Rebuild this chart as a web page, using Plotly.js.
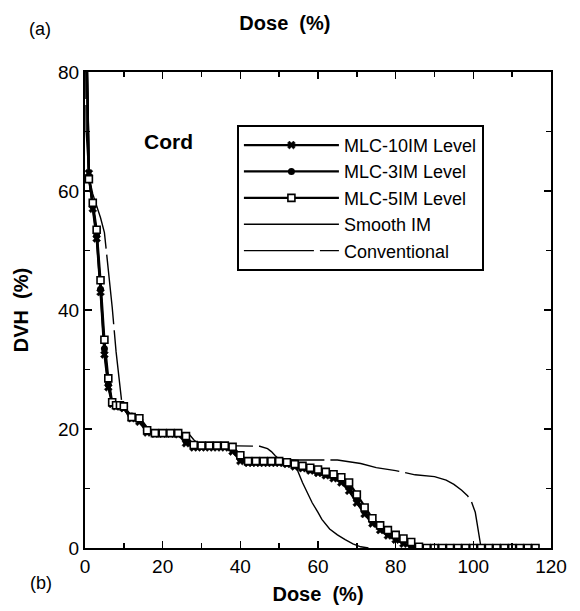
<!DOCTYPE html>
<html>
<head>
<meta charset="utf-8">
<script src="https://cdn.plot.ly/plotly-3.0.1.min.js"></script>
<style>html,body{margin:0;padding:0;background:#fff;}#chart{width:580px;height:611px;}</style>
</head>
<body>
<div id="chart"></div>
<script>
// Dose grid shared by the three MLC series (%)
const mlcDose = [0,1,2,3,4,5,6,7,8,9,10,
  12,14,16,18,20,22,24,26,28,30,32,34,36,38,40,42,44,46,48,50,52,54,56,58,60,62,64,66,68,70,72,74,76,78,80,82,84,86,
  88,90,92,94,96,98,100,102,104,106,108,110,112,114,116];

const mlc10 = [100,63,57,52,43,32.5,27,24.2,23.8,23.8,23.5,
  21.8,21.2,19.4,19.2,19.2,19.2,19.1,17.6,16.9,16.9,16.9,16.9,16.9,16.2,14.6,14.3,14.3,14.3,14.3,14.3,14.1,13.7,13.4,13.0,12.6,12.2,11.7,11.0,9.6,7.6,5.7,4.1,3.0,2.1,1.4,0.7,0.2,0,
  0,0,0,0,0,0,0,0,0,0,0,0,0,0,0];

const mlc3 = [100,62.5,57.5,52.5,43.5,33.5,27.5,24.3,24,24,23.6,
  22.2,21.5,19.6,19.4,19.4,19.4,19.3,18.0,17.1,17.1,17.1,17.1,17.1,16.6,15.0,14.5,14.5,14.5,14.5,14.5,14.3,13.9,13.6,13.2,12.9,12.5,12.0,11.4,10.3,8.2,6.2,4.5,3.4,2.5,1.8,1.1,0.5,0,
  0,0,0,0,0,0,0,0,0,0,0,0,0,0,0];

const mlc5 = [100,62,58,53.5,45,35,28.5,24.5,24,24,23.8,
  22,21.8,19.8,19.3,19.3,19.3,19.3,18.8,17.3,17.2,17.2,17.2,17.2,17.0,15.6,14.6,14.6,14.6,14.6,14.6,14.4,14.1,13.8,13.5,13.2,12.8,12.4,11.9,11.0,9.0,6.8,5.0,3.8,3.0,2.2,1.6,1.0,0.2,
  0,0,0,0,0,0,0,0,0,0,0,0,0,0,0];

// Smooth IM
const smoothDose = [0,1,2,3,4,5,6,7,8,10,11,12,14,15.5,17,20,25,26.5,27.5,30,38,39.5,41,45,50,53,54.5,56,57,58.5,60,61,63,65,67,69,71,73];
const smoothDVH  = [100,62,58,53,44,34,28,24.5,24,23.5,22.3,22,21.7,20.5,19.5,19.4,19.3,18.5,17.4,17.2,17.1,16,14.8,14.7,14.6,14.2,13.4,11,9.6,7.6,6,4.8,3.2,2.2,1.4,0.7,0.2,0];

// Conventional
const convDose = [0,0.3,1,2,3,4,5,6,7,8,9,9.5,10,11,12,14,15,16,17,20,25,26,27,28,29,30,35,40,45,47,48,49,50,55,60,65,68,71,75,80,85,90,93,95,97,98.5,99.5,100.5,101,101.5,102];
const convDVH  = [100,70,62.5,59.5,57.5,55.5,53,47,40.5,33,26.5,24.3,23.3,22.5,22.2,21.9,21.2,20.3,19.9,19.7,19.6,19.4,19,18.2,17.6,17.3,17.2,17.2,17.1,16.7,16.2,15.5,14.9,14.8,14.8,14.8,14.5,14.2,13.5,13.0,12.3,12.0,11.4,10.7,9.7,8.8,7.8,6,4,2,0];

const seriesNames = ['MLC-10IM Level','MLC-3IM Level','MLC-5IM Level','Smooth IM','Conventional'];
const xTicks = [0,20,40,60,80,100,120];
const yTicks = [0,20,40,60,80];

const FONT = 'Liberation Sans, Arial, Helvetica, sans-serif';

const traces = [
  {x: convDose, y: convDVH, name: seriesNames[4], mode: 'lines', legendrank: 5, legendgroup: 'e',
   line: {color: '#000', width: 1.4, dash: '70px,6px'}},
  {x: smoothDose, y: smoothDVH, name: seriesNames[3], mode: 'lines', legendrank: 4, legendgroup: 'd',
   line: {color: '#000', width: 1.4}},
  {x: mlcDose, y: mlc10, name: seriesNames[0], mode: 'lines+markers', legendrank: 1, legendgroup: 'a',
   line: {color: '#000', width: 2.2},
   marker: {symbol: 'x', size: 7, color: '#000', line: {color: '#000', width: 0.5}}},
  {x: mlcDose, y: mlc3, name: seriesNames[1], mode: 'lines+markers', legendrank: 2, legendgroup: 'b',
   line: {color: '#000', width: 2.2},
   marker: {symbol: 'circle', size: 7, color: '#000'}},
  {x: mlcDose, y: mlc5, name: seriesNames[2], mode: 'lines+markers', legendrank: 3, legendgroup: 'c',
   line: {color: '#000', width: 2.2},
   marker: {symbol: 'square', size: 7, color: '#fff', line: {color: '#000', width: 1.6}}}
];

const axisCommon = {
  showgrid: false, zeroline: false, showline: true, linecolor: '#000', linewidth: 2,
  mirror: 'ticks', ticks: 'inside', ticklen: 7, tickwidth: 1.5, tickcolor: '#000',
  tickfont: {family: FONT, size: 19, color: '#000'},
  minor: {dtick: 10, ticks: 'inside', ticklen: 5, tickwidth: 1.5, tickcolor: '#000'}
};

const layout = {
  width: 580, height: 611,
  margin: {l: 85, r: 29, t: 72, b: 63},
  paper_bgcolor: '#fff', plot_bgcolor: '#fff',
  font: {family: FONT, color: '#000'},
  showlegend: true,
  title: {text: '<b>Dose  (%)</b>', font: {family: FONT, size: 20, color: '#000'},
          x: 0.429, xref: 'paper', xanchor: 'center', y: 0.963, yref: 'container', yanchor: 'middle'},
  xaxis: Object.assign({}, axisCommon, {
    range: [0, 120], tickvals: xTicks, ticktext: xTicks.map(String),
    title: {text: '<b>Dose  (%)</b>', font: {family: FONT, size: 20, color: '#000'}, standoff: 11}
  }),
  yaxis: Object.assign({}, axisCommon, {
    range: [0, 80], tickvals: yTicks, ticktext: yTicks.map(String),
    title: {text: '<b>DVH  (%)</b>', font: {family: FONT, size: 20, color: '#000'}, standoff: 24}
  }),
  legend: {
    x: 0.326, y: 0.889, xanchor: 'left', yanchor: 'top',
    bgcolor: '#fff', bordercolor: '#000', borderwidth: 2,
    font: {family: FONT, size: 18, color: '#000'},
    traceorder: 'grouped', tracegroupgap: 0, itemwidth: 95,
    entrywidth: 285, entrywidthmode: 'pixels'
  },
  annotations: [
    {text: '<b>Cord</b>', xref: 'paper', yref: 'paper', x: 0.122, y: 0.882, showarrow: false,
     font: {family: FONT, size: 21, color: '#000'}},
    {text: '(a)', xref: 'paper', yref: 'paper', x: -0.124, y: 1.116, showarrow: false,
     font: {family: FONT, size: 18, color: '#000'}},
    {text: '(b)', xref: 'paper', yref: 'paper', x: -0.122, y: -0.099, showarrow: false,
     font: {family: FONT, size: 18, color: '#000'}}
  ]
};

Plotly.newPlot('chart', traces, layout, {displayModeBar: false, staticPlot: true});
</script>
</body>
</html>
